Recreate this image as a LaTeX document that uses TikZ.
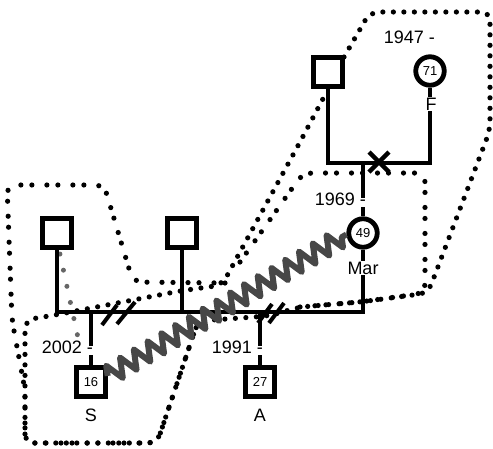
\documentclass[tikz,border=0pt]{standalone}
\usepackage{fontspec}
\setmainfont{Liberation Sans}
\usetikzlibrary{decorations.pathmorphing,backgrounds}
\begin{document}
\begin{tikzpicture}[x=1pt,y=-1pt,
  rel/.style={line width=4.8pt, line join=miter},
  person/.style={draw, line width=4.8pt, fill=white, minimum size=28.5pt, inner sep=0pt, font=\fontsize{13}{14}\selectfont},
  male/.style={person, rectangle},
  female/.style={person, circle},
  uni/.style={line width=5.2pt, line cap=round, rounded corners=9pt, dash pattern=on 0pt off 10.5pt},
  pairs/.style={line width=5.2pt, line cap=round, rounded corners=9pt, dash pattern=on 0pt off 11pt on 0pt off 15pt},
  gdots/.style={draw=black!60, line width=5pt, line cap=round, dash pattern=on 0pt off 16.5pt, dash phase=12pt},
  namelab/.style={fill=white, inner sep=1pt, font=\fontsize{18}{20}\selectfont},
  yearlab/.style={anchor=base east, fill=white, inner sep=0pt, text height=7pt, text depth=2pt, font=\fontsize{18}{20}\selectfont},
  divmark/.style={line width=4pt},
  zz/.style={decorate, decoration={zigzag, segment length=16pt, amplitude=9.5pt}, line width=6pt, draw=black!72, line join=round},
]
\useasboundingbox (0,0) rectangle (493,448);

% people
\node[male] (G) at (328,72) {};
\node[female] (F) at (430,71) {71};
\node[female] (Mar) at (363,233) {49};
\node[male] (L1) at (57,233) {};
\node[male] (L2) at (182,233) {};
\node[male] (S) at (91,382) {16};
\node[male] (A) at (260,382) {27};

\begin{pgfonlayer}{background}
% households
\draw[uni] (344,57) -- (370,12) -- (490,12) -- (490,130) -- (428,293) -- (360,302) -- (300,307) -- (268,316) -- (198,321) -- (157,443) -- (25,443) -- (25,320) -- (55,315) -- (133,300) -- (180,291) -- (222,285) -- (300,142) -- (325,95);
\draw[pairs] (240,262) -- (303,173) -- (425,173) -- (425,293) -- (360,302) -- (300,307);
\draw[pairs] (225,283) -- (133,282) -- (104,185) -- (7,185) -- (12,320) -- (25,390) -- (25,443) -- (157,443) -- (198,321);
% distant relation
\draw[gdots] ([xshift=2pt]L1.south) -- ([xshift=-7pt]S.north);
\end{pgfonlayer}

% relationship lines
\draw[rel] (G.south) |- (F.south |- 0,163) -- (F.south);
\draw[rel] (Mar.north |- 0,163) -- (Mar.north);
\draw[rel] (Mar.south) |- (L1.south |- 0,312) -- (L1.south);
\draw[rel] (L2.south) -- (L2.south |- 0,312);
\draw[rel] (S.north |- 0,312) -- (S.north);
\draw[rel] (A.north |- 0,312) -- (A.north);

% marks
\draw[line width=4.5pt] (369,152) -- (389,172) (369,172) -- (389,152);
\draw[divmark] (102,325) -- (117,305) (117,324) -- (135,302);
\draw[divmark] (258,323) -- (272,304) (269,323) -- (284,303);

% labels
\node[namelab] at (431,104) {F};
\node[namelab] at (363,268) {Mar};
\node[namelab] at (91,415) {S};
\node[namelab] at (260,415) {A};
\node[yearlab] at (435,43) {1947 -};
\node[yearlab] at (366,205) {1969 -};
\node[yearlab] at (93,353) {2002 -};
\node[yearlab] at (263,353) {1991 -};

% hostile relation
\draw[zz] (S.20) -- (Mar.185);
\end{tikzpicture}
\end{document}
